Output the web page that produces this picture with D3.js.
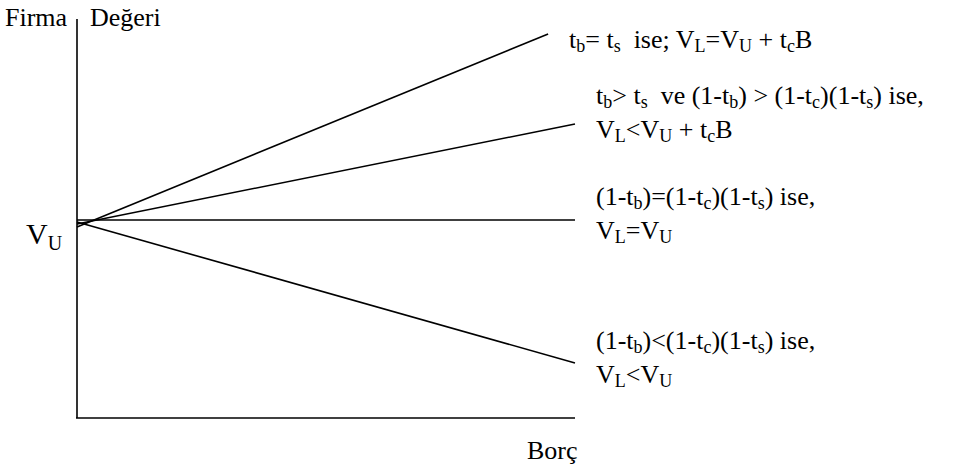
<!DOCTYPE html>
<html><head><meta charset="utf-8">
<script src="https://cdn.jsdelivr.net/npm/d3@7"></script>
<style>
html,body{margin:0;padding:0;background:#fff;}
svg{display:block;}
</style></head>
<body>
<svg id="chart" width="980" height="471"></svg>
<script>
// ---- data ----
const lineNames = ["equal", "greater", "neutral", "less"];
const startX = [0, 0, 0, 0];
const startY = [47.75, 48.5, 49.5, 49.0];
const endX   = [9.46, 10, 10, 10];
const endY   = [96.0, 73.5, 49.5, 13.75];
const xDomain = [0, 10];
const yDomain = [0, 100];
const xAxisTitle = "Borç";
const yAxisTitleA = "Firma";
const yAxisTitleB = "Değeri";
const vuLabel = [["V", 0], ["U", 1]];
// rich labels: [text, isSubscript]
const label1 = [[["t",0],["b",1],["= t",0],["s",1],["  ise; V",0],["L",1],["=V",0],["U",1],[" + t",0],["c",1],["B",0]]];
const label2 = [[["t",0],["b",1],["> t",0],["s",1],["  ve (1-t",0],["b",1],[") > (1-t",0],["c",1],[")(1-t",0],["s",1],[") ise,",0]],
                [["V",0],["L",1],["<V",0],["U",1],[" + t",0],["c",1],["B",0]]];
const label3 = [[["(1-t",0],["b",1],[")=(1-t",0],["c",1],[")(1-t",0],["s",1],[") ise,",0]],
                [["V",0],["L",1],["=V",0],["U",1]]];
const label4 = [[["(1-t",0],["b",1],[")<(1-t",0],["c",1],[")(1-t",0],["s",1],[") ise,",0]],
                [["V",0],["L",1],["<V",0],["U",1]]];
const labels = [label1, label2, label3, label4];

// ---- layout ----
const FONT = "'Liberation Serif', Tinos, 'Times New Roman', serif";
const svg = d3.select("#chart").attr("font-family", FONT);
const x = d3.scaleLinear().domain(xDomain).range([77, 575]);
const y = d3.scaleLinear().domain(yDomain).range([418, 18]);

// axes
svg.append("line").attr("x1", x(0)).attr("x2", x(0)).attr("y1", 19).attr("y2", y(0))
  .attr("stroke", "#000").attr("stroke-width", 1.6);
svg.append("line").attr("x1", x(0) - 1).attr("x2", x(10)).attr("y1", y(0)).attr("y2", y(0))
  .attr("stroke", "#000").attr("stroke-width", 1.6);

// lines
const lineGen = d3.line().x(d => x(d[0])).y(d => y(d[1]));
lineNames.forEach((n, i) => {
  svg.append("path")
    .datum([[startX[i], startY[i]], [endX[i], endY[i]]])
    .attr("d", lineGen)
    .attr("fill", "none").attr("stroke", "#000").attr("stroke-width", 1.6);
});

// rich text helper
function rich(g, segs, xPos, yPos, size, subSize, subDy) {
  const t = g.append("text").attr("x", xPos).attr("y", yPos)
    .attr("font-family", FONT)
    .attr("font-size", size).attr("xml:space", "preserve").style("white-space", "pre");
  let prevSub = false;
  segs.forEach(([s, sub]) => {
    const ts = t.append("tspan").text(s);
    if (sub) { ts.attr("font-size", subSize).attr("dy", prevSub ? 0 : subDy); }
    else { ts.attr("dy", prevSub ? -subDy : 0); }
    prevSub = !!sub;
  });
  return t;
}

const labelX = [569, 596, 596, 596];
const labelY = [48, 104, 205, 349];
const lineGap = 34;
labels.forEach((lab, i) => {
  lab.forEach((line, j) => {
    rich(svg, line, labelX[i], labelY[i] + j * lineGap, 26, 18, 4);
  });
});

// axis titles
svg.append("text").attr("x", 5).attr("y", 26).attr("font-size", 26).attr("font-family", FONT).text(yAxisTitleA);
svg.append("text").attr("x", 90).attr("y", 26).attr("font-size", 26).attr("font-family", FONT).text(yAxisTitleB);
svg.append("text").attr("x", 527).attr("y", 459).attr("font-size", 26).attr("font-family", FONT).text(xAxisTitle);
rich(svg, vuLabel, 26, 244, 30, 20, 6);
</script>
</body></html>
